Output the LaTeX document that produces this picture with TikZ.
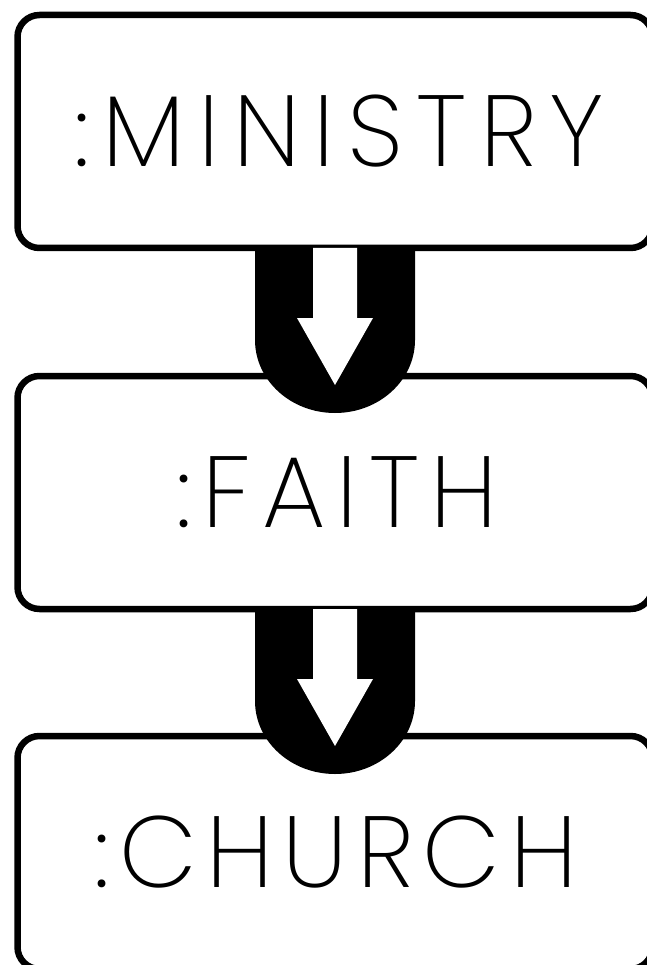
\documentclass[tikz,border=0pt]{standalone}
\usepackage{fontspec}
\IfFontExistsTF{Poppins ExtraLight}{\setmainfont{Poppins ExtraLight}[LetterSpace=10]}{%
  \IfFontExistsTF{Poppins Light}{\setmainfont{Poppins Light}[LetterSpace=10]}{\setmainfont{Poppins}[LetterSpace=10]}}
\usetikzlibrary{calc}
\tikzset{
  stagebox/.style={draw=black, line width=6.5pt, rounded corners=22pt,
    minimum width=635pt, minimum height=233pt, inner sep=0pt, outer sep=0pt,
    font=\fontsize{101}{101}\selectfont, text=black},
  spacing/.style={font=\fontsize{101}{101}\selectfont\addfontfeature{LetterSpace=#1}},
  ushape/.style={fill=black},
  arrowcut/.style={fill=white}
}
\newcommand\flowconn[1]{%
  \fill[ushape] ([xshift=-80pt]#1.south) -- ([shift={(-80pt,-92pt)}]#1.south)
    arc[start angle=180,end angle=360,x radius=80pt,y radius=73pt]
    -- ([xshift=80pt]#1.south) -- cycle;
  \fill[arrowcut] ([xshift=-22pt]#1.south) -- ([shift={(-22pt,-70pt)}]#1.south)
    -- ([shift={(-38pt,-70pt)}]#1.south) -- ([yshift=-137pt]#1.south)
    -- ([shift={(38pt,-70pt)}]#1.south) -- ([shift={(22pt,-70pt)}]#1.south)
    -- ([xshift=22pt]#1.south) -- cycle;
}
\begin{document}
\begin{tikzpicture}[x=1pt,y=1pt]
  \useasboundingbox (0,0) rectangle (646,-965);
  \node[stagebox, spacing=13] (b1) at (335,-131.5) {\kern9pt:MINISTRY};
  \node[stagebox, spacing=11] (b2) at (335,-492.5) {\kern4pt:FAITH};
  \node[stagebox, spacing=9.2] (b3) at (335,-852.5) {\kern2pt:CHURCH};
  \flowconn{b1}
  \flowconn{b2}
\end{tikzpicture}
\end{document}
